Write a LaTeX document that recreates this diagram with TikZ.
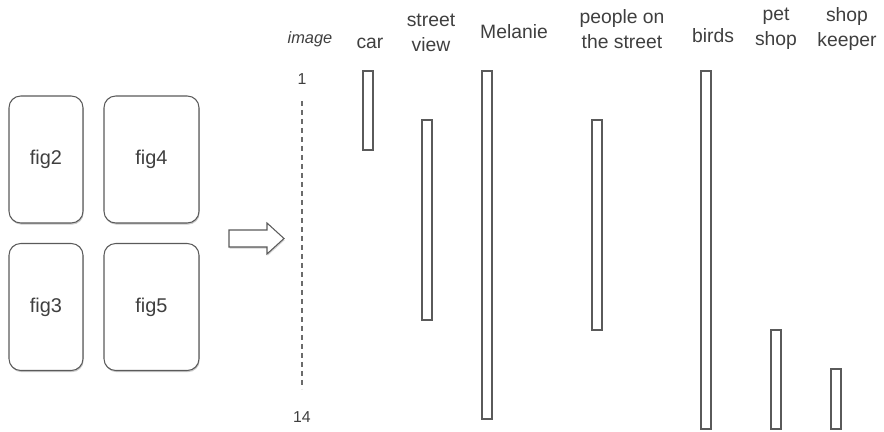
\documentclass[tikz,border=0pt]{standalone}
\usepackage{fontspec}
\setmainfont{Liberation Sans}
\usetikzlibrary{shadows}
\definecolor{ink}{HTML}{3F3F3F}
\definecolor{edge}{HTML}{5A5A5A}
\tikzset{
  figcard/.style={draw=edge, line width=0.9pt, rounded corners=10pt, fill=white,
    drop shadow={shadow xshift=0.6pt, shadow yshift=-1.4pt, opacity=0.35, fill=black!60},
    text=ink, font=\fontsize{17}{20}\selectfont},
  head/.style={text=ink, font=\fontsize{16.5}{21}\selectfont, align=center, inner sep=0pt},
  tick/.style={text=ink, font=\fontsize{13.5}{16}\selectfont, inner sep=0pt},
  span/.style={draw=edge, line width=0.9pt, fill=white, inner sep=0pt, minimum width=0.3cm}
}
\begin{document}
\begin{tikzpicture}[x=0.03cm, y=-0.03cm]
\useasboundingbox (0,0) rectangle (884,432);

% image cards
\node[figcard, minimum width=74*0.03cm, minimum height=127*0.03cm] (fig2) at (46,159.5) {fig2};
\node[figcard, minimum width=95*0.03cm, minimum height=127*0.03cm] (fig4) at (151.5,159.5) {fig4};
\node[figcard, minimum width=74*0.03cm, minimum height=127*0.03cm] (fig3) at (46,307) {fig3};
\node[figcard, minimum width=95*0.03cm, minimum height=127*0.03cm] (fig5) at (151.5,307) {fig5};

% block arrow
\draw[draw=edge, line width=0.9pt, fill=white,
      drop shadow={shadow xshift=0.6pt, shadow yshift=-1.4pt, opacity=0.3, fill=black!60}]
  (229,230) -- (267,230) -- (267,223) -- (284,238.5) -- (267,254) -- (267,247) -- (229,247) -- cycle;

% image index axis
\node[head, font=\fontsize{14}{16}\selectfont\itshape] (imglabel) at (310,39) {image};
\node[tick] (first) at (302,79) {1};
\node[tick] (last) at (302,417) {14};
\coordinate (axtop) at (302,101);
\coordinate (axbot) at (302,389);
\draw[edge!90, line width=1pt, dash pattern=on 0.15cm off 0.12cm] (axtop) -- (axbot);

% column headings
\node[head] (hcar) at (370,43) {car};
\node[head] (hstreet) at (431,33) {street\\view};
\node[head] (hmel) at (514,32) {Melanie};
\node[head] (hpeople) at (622,29) {people on\\the street};
\node[head] (hbirds) at (713,36) {birds};
\node[head] (hpet) at (776,29) {pet\\shop};
\node[head] (hkeeper) at (847,29) {shop\\keeper};

% presence bars
\node[span, minimum height=79*0.03cm] (bcar) at (368,110.5) {};
\node[span, minimum height=200*0.03cm] (bstreet) at (427,220) {};
\node[span, minimum height=348*0.03cm] (bmel) at (487,245) {};
\node[span, minimum height=210*0.03cm] (bpeople) at (597,225) {};
\node[span, minimum height=358*0.03cm] (bbirds) at (706,250) {};
\node[span, minimum height=99*0.03cm] (bpet) at (776,379.5) {};
\node[span, minimum height=60*0.03cm] (bkeeper) at (836,399) {};
\end{tikzpicture}
\end{document}
